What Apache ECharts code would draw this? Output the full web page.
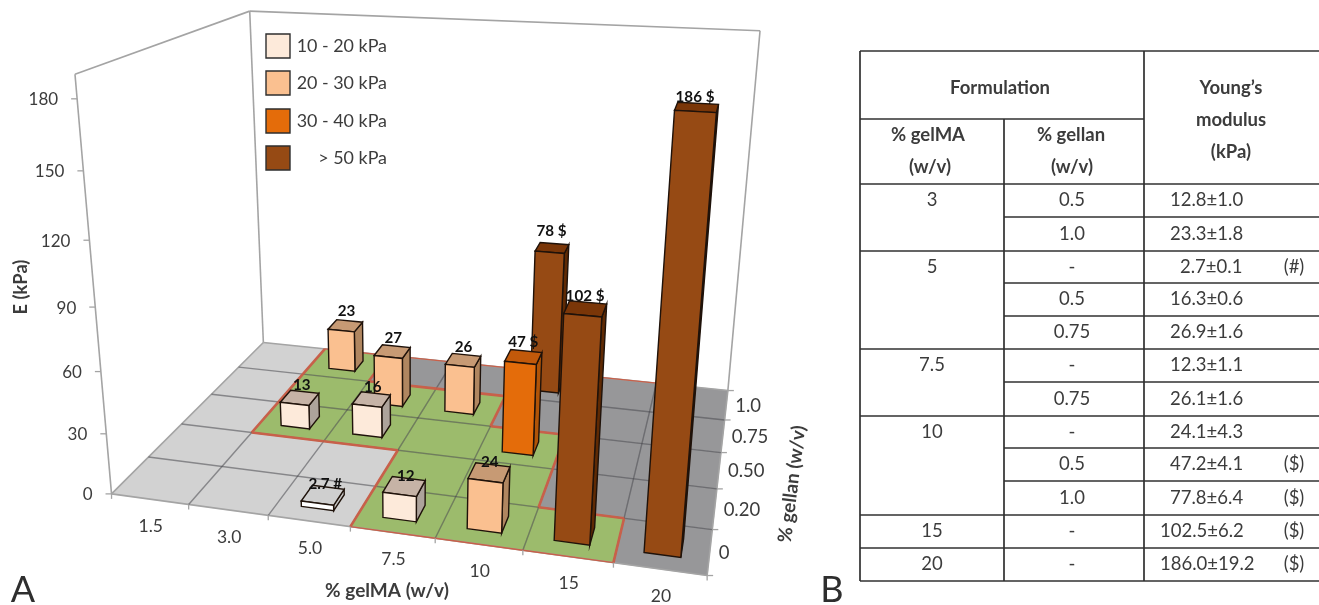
<!DOCTYPE html>
<html>
<head>
<meta charset="utf-8">
<style>
html,body{margin:0;padding:0;background:#fff;}
#c{width:1319px;height:605px;filter:blur(0.7px);}
</style>
<script src="https://cdn.jsdelivr.net/npm/echarts@6/dist/echarts.min.js"></script>
</head>
<body>
<div id="c"></div>
<script>
// ---------- data ----------
const gelmaLabels = ['1.5','3.0','5.0','7.5','10','15','20'];
const gellanLabels = ['0','0.20','0.50','0.75','1.0'];
const eTicks = [0,30,60,90,120,150,180];
const barGelma  = ['3.0','3.0','5.0','5.0','5.0','7.5','7.5','10','10','10','15','20'];
const barGellan = ['0.50','1.0','0','0.50','0.75','0','0.75','0','0.50','1.0','0','0'];
const barValues = [12.8,23.3,2.7,16.3,26.9,12.3,26.1,24.1,47.2,77.8,102.5,186.0];
const barTexts  = ['13','23','2.7 #','16','27','12','26','24','47 $','78 $','102 $','186 $'];
const legendTexts = ['10 - 20 kPa','20 - 30 kPa','30 - 40 kPa','> 50 kPa'];
// floor zones per gellan row (front to back): L light, G green, D dark
const floorRows = ['LLLGGGD','LLLGGDD','LGGGGDD','LGGGDDD','LGDDDDD'];
// table
const tblGelma  = ['3','','5','','','7.5','','10','','','15','20'];
const tblGellan = ['0.5','1.0','-','0.5','0.75','-','0.75','-','0.5','1.0','-','-'];
const tblModulus = ['12.8±1.0','23.3±1.8','2.7±0.1','16.3±0.6','26.9±1.6','12.3±1.1','26.1±1.6','24.1±4.3','47.2±4.1','77.8±6.4','102.5±6.2','186.0±19.2'];
const tblTag = ['','','(#)','','','','','','($)','($)','($)','($)'];

// ---------- projection calibrated on the chart frame ----------
const ZTOP = 190, NU = gelmaLabels.length, NV = gellanLabels.length;
const frameWorld = [[0,0,0],[NU,0,0],[0,NV,0],[NU,NV,0],[0,0,ZTOP],[0,NV,ZTOP],[NU,NV,ZTOP],
  [0,0,30],[0,0,60],[0,0,90],[0,0,120],[0,0,150],[0,0,180]];
const frameScreen = [[113,494],[707,576],[263,343],[728,390],[76,74],[250,11],[760,31],
  [106,433],[100,372],[95,307],[90,240],[82,171],[77,99]];
function solve(A,b){
  const n=b.length,M=A.map((r,i)=>r.concat(b[i]));
  for(let i=0;i<n;i++){
    let p=i;for(let k=i+1;k<n;k++)if(Math.abs(M[k][i])>Math.abs(M[p][i]))p=k;
    [M[i],M[p]]=[M[p],M[i]];
    for(let k=i+1;k<n;k++){const f=M[k][i]/M[i][i];for(let j=i;j<=n;j++)M[k][j]-=f*M[i][j];}
  }
  const x=new Array(n).fill(0);
  for(let i=n-1;i>=0;i--){let s=M[i][n];for(let j=i+1;j<n;j++)s-=M[i][j]*x[j];x[i]=s/M[i][i];}
  return x;
}
const P=(function(){
  const rows=[],rhs=[];
  frameWorld.forEach((w,i)=>{
    const X=w[0]/NU,Y=w[1]/NV,Z=w[2]/ZTOP,x=frameScreen[i][0]/1000,y=frameScreen[i][1]/1000;
    rows.push([X,Y,Z,1,0,0,0,0,-x*X,-x*Y,-x*Z]);rhs.push(x);
    rows.push([0,0,0,0,X,Y,Z,1,-y*X,-y*Y,-y*Z]);rhs.push(y);
  });
  const n=11,A=[],b=[];
  for(let i=0;i<n;i++){A.push(new Array(n).fill(0));b.push(0);}
  rows.forEach((r,k)=>{for(let i=0;i<n;i++){b[i]+=r[i]*rhs[k];for(let j=0;j<n;j++)A[i][j]+=r[i]*r[j];}});
  return solve(A,b);
})();
function pr(u,v,z){
  const X=u/NU,Y=v/NV,Z=z/ZTOP,d=P[8]*X+P[9]*Y+P[10]*Z+1;
  return [1000*(P[0]*X+P[1]*Y+P[2]*Z+P[3])/d,1000*(P[4]*X+P[5]*Y+P[6]*Z+P[7])/d];
}

// ---------- styles ----------
const FONT='Lato, "Noto Sans", sans-serif', INK='#3c3c3c';
const floorFill={L:'#d2d2d2',G:'#9cbb6c',D:'#979799'};
const barBand=[
  {lim:10,front:'#ffffff',top:'#cfcfcf',side:'#c4c4c4'},
  {lim:20,front:'#fdeada',top:'#c6b3a6',side:'#ada39b'},
  {lim:30,front:'#fac090',top:'#c79a74',side:'#b08660'},
  {lim:50,front:'#e46c0a',top:'#c2590a',side:'#b05408'},
  {lim:1e9,front:'#964a14',top:'#7a3608',side:'#5f2a04'}];
const legendBand=[1,2,3,4];
const band=v=>barBand.find(b=>v<b.lim);
const txt=(text,x,y,o={})=>({type:'text',x,y,rotation:o.rot||0,style:{text,fill:o.fill||INK,
  font:(o.bold?'bold ':'')+(o.size||16)+'px '+FONT,textAlign:o.align||'center',textVerticalAlign:'middle'}});
const ln=(a,b,stroke,lineWidth)=>({type:'line',shape:{x1:a[0],y1:a[1],x2:b[0],y2:b[1]},style:{stroke,lineWidth}});
const poly=(points,fill,stroke,lineWidth)=>({type:'polygon',shape:{points},style:{fill,stroke,lineWidth:lineWidth||0}});

function layer(name,data,z,fn){
  return {type:'custom',name,coordinateSystem:'none',silent:true,animation:false,z,data,
    renderItem:(params,api)=>fn(params.dataIndex,api)};
}

// ---------- floor ----------
const cells=[];
floorRows.forEach((row,v)=>row.split('').forEach((k,u)=>cells.push([u,v,k])));
const isGreen=(u,v)=>v>=0&&v<NV&&u>=0&&u<NU&&floorRows[v][u]==='G';
const redEdges=[];
for(let v=0;v<NV;v++)for(let u=0;u<NU;u++){ if(!isGreen(u,v))continue;
  if(!isGreen(u-1,v))redEdges.push([u,v,u,v+1,2.6]);
  if(!isGreen(u+1,v))redEdges.push([u+1,v,u+1,v+1,2.6]);
  if(!isGreen(u,v-1))redEdges.push([u,v,u+1,v,v===0?1.4:2.6]);
  if(!isGreen(u,v+1))redEdges.push([u,v+1,u+1,v+1,v===NV-1?1.4:2.6]);
}
redEdges.push([2,NV,NU-1,NV,1.2]);

const series=[];
series.push(layer('floor',cells,1,i=>{const [u,v,k]=cells[i];
  const f=floorFill[k];
  return poly([pr(u,v,0),pr(u+1,v,0),pr(u+1,v+1,0),pr(u,v+1,0)],f,f,0.5);}));

// frame, grid lines, ticks
const frameLines=[[0,0,0,0,0,ZTOP],[0,0,ZTOP,0,NV,ZTOP],[0,NV,0,0,NV,ZTOP],[0,NV,ZTOP,NU,NV,ZTOP],[NU,NV,ZTOP,NU,NV,0],[0,0,0,NU,0,0],[NU,0,0,NU,NV,0],[0,0,0,0,NV,0],[0,NV,0,NU,NV,0]];
series.push(layer('frame',frameLines,2,i=>{const f=frameLines[i];
  return ln(pr(f[0],f[1],f[2]),pr(f[3],f[4],f[5]),'#a4a4a4',1.6);}));
const gridU=gelmaLabels.map((_,i)=>i).slice(1), gridV=gellanLabels.map((_,i)=>i).slice(1);
series.push(layer('gridU',gridU,3,i=>ln(pr(gridU[i],0,0),pr(gridU[i],NV,0),'rgba(70,70,75,0.55)',1.4)));
series.push(layer('gridV',gridV,3,i=>ln(pr(0,gridV[i],0),pr(NU,gridV[i],0),'rgba(70,70,75,0.55)',1.4)));
series.push(layer('zone edge',redEdges,4,i=>{const e=redEdges[i];
  return ln(pr(e[0],e[1],0),pr(e[2],e[3],0),'#c8604a',e[4]);}));

// axes
const TICK=17.5;
series.push(layer('E axis',eTicks,5,i=>{const p=pr(0,0,eTicks[i]);
  return {type:'group',children:[ln(p,[p[0]-6,p[1]],'#a4a4a4',1.3),txt(String(eTicks[i]),p[0]-19,p[1]+1,{align:'right',size:17})]};}));
const uTicks=gelmaLabels.map((_,i)=>i).concat(NU);
series.push(layer('gelMA ticks',uTicks,5,i=>{const p=pr(uTicks[i],0,0);return ln(p,[p[0],p[1]+5],'#a4a4a4',1.3);}));
series.push(layer('gelMA axis',gelmaLabels,5,i=>{const p=pr(i+0.5,0,0);return txt(gelmaLabels[i],p[0]+1,p[1]+27,{size:TICK});}));
const vTicks=gellanLabels.map((_,i)=>i).concat(NV);
series.push(layer('gellan ticks',vTicks,5,i=>{const p=pr(NU,vTicks[i],0);return ln(p,[p[0]+6,p[1]],'#a4a4a4',1.3);}));
series.push(layer('gellan axis',gellanLabels,5,i=>{const p=pr(NU,i+0.5,0);return txt(gellanLabels[i],p[0]+9,p[1]+1,{align:'left',size:TICK+1});}));

// bars
const W=0.4;
const barRows=barValues.map((val,i)=>[gelmaLabels.indexOf(barGelma[i]),gellanLabels.indexOf(barGellan[i]),val,i]);
barRows.sort((a,b)=>(b[1]-a[1])||(a[0]-b[0]));
series.push(layer('Young\'s modulus bars',barRows,10,i=>{
  const [gu,gv,val]=barRows[i];const c=band(val),u0=gu+0.5-W/2,u1=gu+0.5+W/2,v0=gv+0.5-W/2,v1=gv+0.5+W/2;
  const S='#1f120a',L=1.4;
  return {type:'group',z2:i,children:[
    poly([pr(u1,v0,0),pr(u1,v1,0),pr(u1,v1,val),pr(u1,v0,val)],c.side,S,L),
    poly([pr(u0,v0,val),pr(u1,v0,val),pr(u1,v1,val),pr(u0,v1,val)],c.top,S,L),
    poly([pr(u0,v0,0),pr(u1,v0,0),pr(u1,v0,val),pr(u0,v0,val)],c.front,S,L)
  ]};
}));
series.push(layer('bar labels',barRows,20,i=>{
  const [gu,gv,val,k]=barRows[i];const p=pr(gu+0.5,gv+0.5+W/2,val);
  return txt(barTexts[k],p[0]-3,p[1]-2-1.7*(gv+0.5)-(val>40?3:0),{bold:true,size:15.2,fill:'#111'});
}));

// axis titles and panel letters
const titles=[['E (kPa)',21,287,Math.PI/2,18.3],['% gelMA (w/v)',387,591,0,19],['% gellan (w/v)',792,484,1.445,19]];
series.push(layer('axis titles',titles,6,i=>{const t=titles[i];return txt(t[0],t[1],t[2],{bold:true,rot:t[3],size:t[4]});}));
const panels=[['A',23,590],['B',832,590]];
series.push(layer('panel letters',panels,6,i=>txt(panels[i][0],panels[i][1],panels[i][2],{size:36,fill:'#2e2e2e'})));

// legend
series.push(layer('legend',legendTexts,6,i=>{
  const y=[34,71,109,146][i],c=barBand[legendBand[i]];
  return {type:'group',children:[
    {type:'rect',shape:{x:266,y,width:24,height:24},style:{fill:c.front,stroke:'#2e2e2e',lineWidth:1.4}},
    txt(legendTexts[i],387,y+12,{align:'right',size:17.9})]};
}));

// table panel
const colX=[860,1004,1144], tableRight=1319;
const rowY=[184,217,251,283,316,349,382,416,448,481,515,548,581];
const tblEls=[];
const L1=(x1,y1,x2,y2)=>ln([x1,y1],[x2,y2],'#303030',1.7);
tblEls.push(L1(860,51,tableRight,51),L1(860,119,1144,119),L1(860,184,tableRight,184));
colX.forEach((x,i)=>tblEls.push(L1(x,i===1?119:51,x,581)));
rowY.slice(1).forEach((y,i)=>{const starts=tblGelma[i+1]!==''||i+1===tblGelma.length;tblEls.push(L1(starts?860:1004,y,tableRight,y));});
const HB={bold:true,size:18.5};
tblEls.push(txt('Formulation',1000,88,HB),txt('Young’s',1231,88,HB),txt('modulus',1231,120,HB),txt('(kPa)',1231,152,HB),
  txt('% gelMA',928,135,HB),txt('(w/v)',930,167,HB),txt('% gellan',1071,135,HB),txt('(w/v)',1072,167,HB));
const BODY={size:18.5};
tblModulus.forEach((m,i)=>{
  const y=(rowY[i]+rowY[i+1])/2, digits=m.indexOf('.');
  if(tblGelma[i])tblEls.push(txt(tblGelma[i],932,y,BODY));
  tblEls.push(txt(tblGellan[i],1072,y,BODY));
  tblEls.push(txt(m,1170+(2-digits)*10,y,Object.assign({align:'left'},BODY)));
  if(tblTag[i])tblEls.push(txt(tblTag[i],1294,y,BODY));
});
series.push(layer('table',[0],6,()=>({type:'group',children:tblEls})));

const chart=echarts.init(document.getElementById('c'),null,{renderer:'canvas'});
chart.setOption({animation:false,backgroundColor:'#fff',series});
</script>
</body>
</html>
